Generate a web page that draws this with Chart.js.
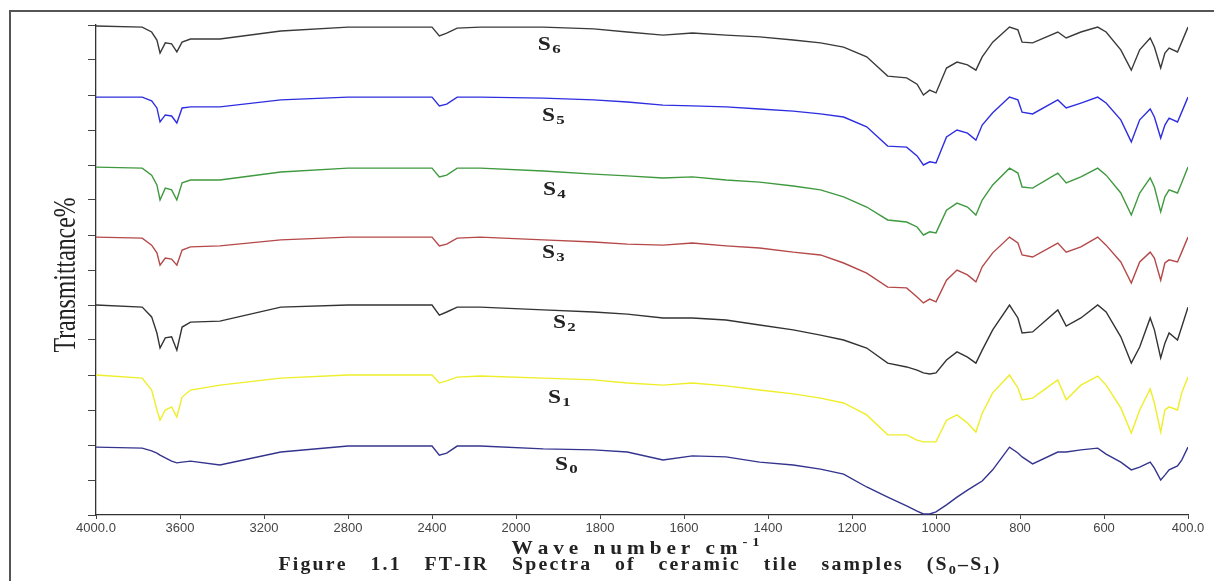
<!DOCTYPE html>
<html>
<head>
<meta charset="utf-8">
<script src="https://cdn.jsdelivr.net/npm/chart.js@4.4.0/dist/chart.umd.min.js"></script>
<style>
  html, body { margin: 0; padding: 0; background: #fff; overflow: hidden; }
  #wrap { position: relative; width: 1214px; height: 581px; }
  #frame { position: absolute; left: 9px; top: 10px; width: 1210px; height: 580px;
           border-left: 2px solid #555; border-top: 2px solid #555; }
  canvas { position: absolute; left: 0; top: 0; }
</style>
</head>
<body>
<div id="wrap">
  <canvas id="ftir" width="1214" height="581"></canvas>
  <div id="frame"></div>
</div>
<script>
// wavenumbers (cm-1) where the spectra were read
const waveNumbers = [4000, 3780, 3735, 3710, 3695, 3670, 3640, 3615, 3590, 3550,
  3410, 3120, 2800, 2400, 2365, 2330, 2280, 2170, 1935, 1815,
  1735, 1650, 1580, 1500, 1420, 1340, 1275, 1220, 1165, 1115,
  1070, 1045, 1030, 1015, 1000, 975, 950, 925, 905, 890,
  865, 825, 805, 795, 770, 710, 690, 655, 615, 595,
  560, 535, 515, 490, 480, 465, 455, 445, 425, 415,
  400];

// transmittance (arbitrary units, each sample before stacking)
const s0 = [1.94, 1.91, 1.83, 1.77, 1.71, 1.63, 1.54, 1.49, 1.51, 1.54,
  1.43, 1.80, 1.97, 1.97, 1.71, 1.77, 1.97, 1.97, 1.89, 1.86,
  1.80, 1.57, 1.69, 1.66, 1.51, 1.43, 1.31, 1.17, 0.80, 0.51,
  0.26, 0.11, 0.03, 0.03, 0.09, 0.29, 0.51, 0.71, 0.86, 0.97,
  1.29, 1.94, 1.77, 1.66, 1.46, 1.80, 1.80, 1.86, 1.91, 1.74,
  1.51, 1.29, 1.37, 1.51, 1.34, 1.00, 1.14, 1.29, 1.40, 1.57,
  1.94];
const s1 = [2.00, 1.91, 1.57, 1.00, 0.71, 1.00, 1.09, 0.80, 1.37, 1.57,
  1.71, 1.91, 2.00, 2.00, 1.77, 1.83, 1.94, 1.97, 1.91, 1.86,
  1.77, 1.71, 1.77, 1.69, 1.57, 1.46, 1.34, 1.20, 0.86, 0.29,
  0.29, 0.14, 0.09, 0.09, 0.09, 0.71, 0.86, 0.63, 0.37, 0.91,
  1.49, 2.00, 1.63, 1.29, 1.34, 1.86, 1.29, 1.71, 1.97, 1.71,
  1.06, 0.34, 1.00, 1.60, 1.20, 0.37, 1.00, 1.09, 1.00, 1.49,
  1.94];
const s2 = [2.00, 1.94, 1.66, 1.20, 0.77, 1.06, 1.09, 0.71, 1.37, 1.51,
  1.54, 1.94, 2.00, 2.00, 1.71, 1.80, 1.94, 1.94, 1.86, 1.80,
  1.74, 1.63, 1.63, 1.57, 1.43, 1.29, 1.14, 1.00, 0.77, 0.34,
  0.23, 0.14, 0.06, 0.03, 0.06, 0.43, 0.66, 0.51, 0.34, 0.71,
  1.29, 2.00, 1.63, 1.20, 1.23, 1.86, 1.40, 1.63, 2.00, 1.80,
  1.09, 0.34, 0.80, 1.63, 1.29, 0.49, 0.91, 1.20, 1.00, 1.37,
  1.94];
const s3 = [1.94, 1.91, 1.71, 1.49, 1.14, 1.34, 1.31, 1.14, 1.57, 1.66,
  1.69, 1.86, 1.94, 1.94, 1.69, 1.74, 1.91, 1.94, 1.86, 1.80,
  1.74, 1.71, 1.77, 1.69, 1.63, 1.51, 1.43, 1.20, 0.91, 0.51,
  0.49, 0.23, 0.06, 0.17, 0.09, 0.71, 1.00, 0.86, 0.66, 1.09,
  1.49, 1.94, 1.77, 1.43, 1.37, 1.77, 1.51, 1.66, 1.94, 1.71,
  1.23, 0.63, 1.23, 1.51, 1.34, 0.71, 1.20, 1.29, 1.23, 1.51,
  1.94];
const s4 = [1.94, 1.91, 1.71, 1.43, 1.00, 1.34, 1.29, 1.00, 1.49, 1.57,
  1.57, 1.80, 1.91, 1.91, 1.66, 1.71, 1.91, 1.91, 1.83, 1.74,
  1.69, 1.63, 1.66, 1.57, 1.51, 1.40, 1.29, 1.09, 0.80, 0.43,
  0.37, 0.23, 0.00, 0.09, 0.06, 0.71, 0.91, 0.80, 0.57, 1.00,
  1.43, 1.91, 1.77, 1.37, 1.34, 1.77, 1.49, 1.66, 1.91, 1.71,
  1.20, 0.57, 1.20, 1.63, 1.37, 0.66, 1.09, 1.29, 1.20, 1.49,
  1.94];
const s5 = [1.94, 1.94, 1.83, 1.63, 1.23, 1.43, 1.40, 1.20, 1.63, 1.66,
  1.66, 1.86, 1.94, 1.94, 1.69, 1.74, 1.94, 1.94, 1.91, 1.86,
  1.80, 1.71, 1.69, 1.66, 1.60, 1.54, 1.46, 1.37, 1.09, 0.54,
  0.51, 0.26, 0.00, 0.09, 0.06, 0.80, 1.00, 0.91, 0.71, 1.14,
  1.49, 1.94, 1.86, 1.51, 1.46, 1.86, 1.63, 1.77, 1.94, 1.77,
  1.29, 0.66, 1.29, 1.60, 1.37, 0.77, 1.14, 1.34, 1.23, 1.51,
  1.94];
const s6 = [1.97, 1.94, 1.80, 1.57, 1.20, 1.49, 1.46, 1.23, 1.51, 1.60,
  1.60, 1.83, 1.94, 1.94, 1.69, 1.77, 1.91, 1.94, 1.94, 1.89,
  1.80, 1.71, 1.77, 1.71, 1.66, 1.57, 1.49, 1.37, 1.09, 0.54,
  0.49, 0.31, 0.00, 0.14, 0.06, 0.77, 0.94, 0.86, 0.71, 1.09,
  1.51, 1.94, 1.86, 1.51, 1.49, 1.80, 1.63, 1.80, 1.94, 1.80,
  1.29, 0.71, 1.29, 1.63, 1.37, 0.77, 1.20, 1.34, 1.23, 1.51,
  1.94];

const sampleIds = ["0", "1", "2", "3", "4", "5", "6"];
const spectra = [s0, s1, s2, s3, s4, s5, s6];
const stackOffsets = [0, 2, 4, 6, 8, 10, 12];
const lineColors = ["#34348f", "#eeee2a", "#333333", "#b54848", "#3f993f", "#2e2ee0", "#3a3a3a"];

// where each S label sits (wavenumber, stacked level)
const labelWaves = [1907, 1924, 1912, 1938, 1936, 1938, 1948];
const labelLevels = [1.29, 3.2, 5.34, 7.34, 9.14, 11.26, 13.29];

// FT-IR axis: 4000-2000 at half scale, 2000-400 at full scale
function axisPos(w) {
  return w >= 2000 ? (4000 - w) / 2 : 1000 + (2000 - w);
}
function waveFromPos(p) {
  return p <= 1000 ? 4000 - 2 * p : 2000 - (p - 1000);
}

const SERIF = '"Liberation Serif", "Times New Roman", serif';

// draws text runs (0 normal, 1 sup, -1 sub) char by char, stretched to a width.
// letterGap null -> spread evenly over letters, otherwise the rest goes to spaces
function drawRuns(ctx, runs, cx, baseY, size, width, sx, letterGap) {
  const fontFor = (s) => `bold ${s ? Math.round(size * 0.7) : size}px ${SERIF}`;
  const chars = [];
  runs.forEach(([t, s]) => {
    ctx.font = fontFor(s);
    for (const ch of t) chars.push({ ch, s, w: ctx.measureText(ch).width * sx });
  });
  const natural = chars.reduce((a, c) => a + c.w, 0);
  const spaces = chars.filter((c) => c.ch === " ").length;
  let gap, wordGap;
  if (letterGap == null) {
    gap = (width - natural) / chars.length;
    wordGap = 0;
  } else {
    gap = letterGap;
    wordGap = spaces ? (width - natural - gap * chars.length) / spaces : 0;
  }
  let px = cx - width / 2;
  ctx.textAlign = "left";
  ctx.textBaseline = "alphabetic";
  chars.forEach((c) => {
    ctx.font = fontFor(c.s);
    const dy = c.s > 0 ? -size * 0.42 : c.s < 0 ? size * 0.2 : 0;
    ctx.save();
    ctx.translate(px, baseY + dy);
    ctx.scale(sx, 1);
    ctx.fillText(c.ch, 0, 0);
    ctx.restore();
    px += c.w + gap + (c.ch === " " ? wordGap : 0);
  });
}

const textPlugin = {
  id: "ftirText",
  afterDraw(chart) {
    const { ctx } = chart;
    const { x, y } = chart.scales;
    ctx.save();
    ctx.fillStyle = "#222";

    // sample labels
    sampleIds.forEach((id, i) => {
      const lx = x.getPixelForValue(axisPos(labelWaves[i]));
      const ly = y.getPixelForValue(labelLevels[i]);
      ctx.save();
      ctx.translate(lx, ly);
      ctx.scale(1.3, 1);
      ctx.textAlign = "left";
      ctx.textBaseline = "alphabetic";
      ctx.font = `bold 18px ${SERIF}`;
      ctx.fillText("S", 0, 0);
      const sw = ctx.measureText("S").width;
      ctx.font = `bold 13px ${SERIF}`;
      ctx.fillText(id, sw + 1, 3);
      ctx.restore();
    });

    // y title, tall and condensed
    ctx.save();
    ctx.translate(75, 275);
    ctx.rotate(-Math.PI / 2);
    ctx.font = `31px ${SERIF}`;
    const tw = ctx.measureText("Transmittance%").width;
    ctx.scale(155 / tw, 1);
    ctx.textAlign = "center";
    ctx.textBaseline = "alphabetic";
    ctx.fillText("Transmittance%", 0, 0);
    ctx.restore();

    // x title and caption
    drawRuns(ctx, [["Wave number cm", 0], ["-1", 1]], 638, 554, 19, 253, 1.12, null);
    drawRuns(ctx, [["Figure 1.1 FT-IR Spectra of ceramic tile samples (S", 0], ["0", -1],
      ["\u2013S", 0], ["1", -1], [")", 0]], 640, 570, 18, 723, 1.1, 2.2);
    ctx.restore();
  },
};

const datasets = spectra.map((vals, i) => ({
  label: "S" + sampleIds[i],
  data: waveNumbers.map((w, j) => ({ x: axisPos(w), y: vals[j] + stackOffsets[i] })),
  borderColor: lineColors[i],
  borderWidth: 1.4,
  pointRadius: 0,
  tension: 0,
  fill: false,
}));

new Chart(document.getElementById("ftir").getContext("2d"), {
  type: "line",
  data: { datasets },
  options: {
    responsive: false,
    animation: false,
    events: [],
    layout: { padding: { left: 86, top: 25, right: 26, bottom: 36 } },
    plugins: {
      legend: { display: false },
      tooltip: { enabled: false },
    },
    scales: {
      x: {
        type: "linear",
        min: 0,
        max: 2600,
        afterFit: (scale) => { scale.height = 30; },
        border: { color: "#333", width: 1.3 },
        grid: { drawOnChartArea: false, tickLength: 4, color: "#444" },
        ticks: {
          stepSize: 200,
          autoSkip: false,
          maxRotation: 0,
          padding: 2,
          color: "#444",
          font: { family: '"Liberation Sans", Arial, sans-serif', size: 13 },
          callback: (v) => {
            const w = waveFromPos(v);
            return w === 4000 || w === 400 ? w.toFixed(1) : String(w);
          },
        },
      },
      y: {
        type: "linear",
        min: 0,
        max: 14,
        afterFit: (scale) => { scale.width = 10; },
        border: { color: "#333", width: 1.3 },
        grid: { drawOnChartArea: false, tickLength: 8, color: "#444" },
        ticks: { stepSize: 1, padding: 0, callback: () => "" },
      },
    },
  },
  plugins: [textPlugin],
});
</script>
</body>
</html>
